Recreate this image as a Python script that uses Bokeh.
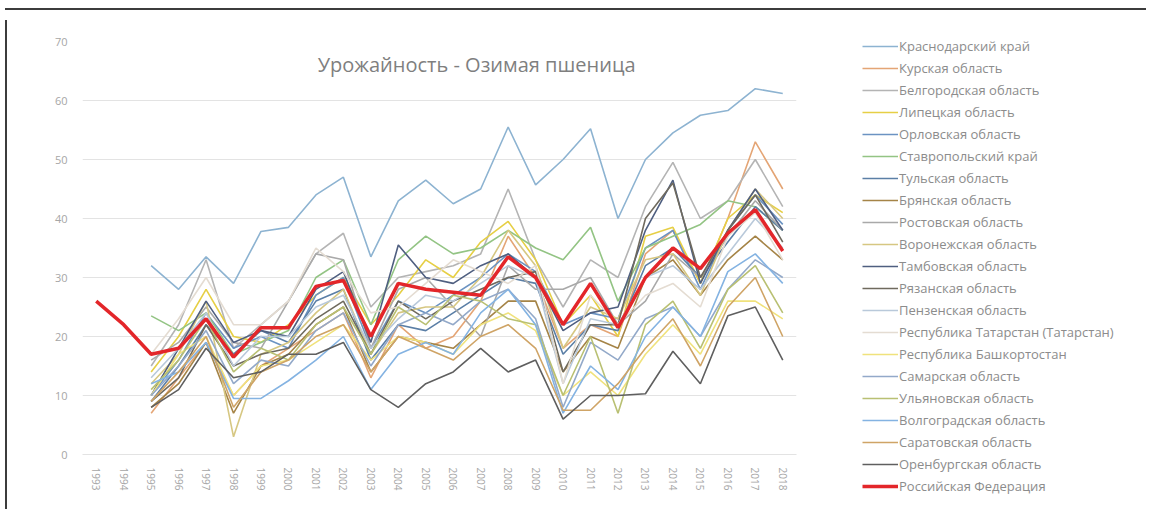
from bokeh.plotting import figure
from bokeh.models import Legend, LegendItem, Label, FixedTicker, Range1d, Div, Spacer
from bokeh.layouts import column, row
from bokeh.embed import file_html
from bokeh.resources import INLINE

years_all = list(range(1993, 2019))
years_reg = list(range(1995, 2019))

region_names = [
    "Краснодарский край", "Курская область", "Белгородская область", "Липецкая область",
    "Орловская область", "Ставропольский край", "Тульская область", "Брянская область",
    "Ростовская область", "Воронежская область", "Тамбовская область", "Рязанская область",
    "Пензенская область", "Республика Татарстан (Татарстан)", "Республика Башкортостан",
    "Самарская область", "Ульяновская область", "Волгоградская область", "Саратовская область",
    "Оренбургская область",
]
region_colors = [
    "#8db3d1", "#e4a575", "#b4b4b4", "#e6cf45", "#6b93c2", "#93c484", "#5b7fa6", "#a58447",
    "#a9a9a9", "#d6c782", "#4f5f80", "#6f6a5e", "#b9c9da", "#e4dcd2", "#f0e27c",
    "#93a9c9", "#b9c073", "#84b3e2", "#cfa466", "#5f5f5f",
]

krasnodar = [32, 28, 33.5, 29, 37.8, 38.5, 44, 47, 33.5, 43, 46.5, 42.5, 45, 55.5, 45.7, 50, 55.2, 40, 50, 54.5, 57.5, 58.3, 62, 61.2]
kursk = [7, 13, 19, 10, 15, 18, 21, 24, 13, 22, 18, 20, 26, 37, 30, 18, 22, 20, 34, 38, 29, 40, 53, 45]
belgorod = [15, 22, 33, 18, 22, 26, 34, 37.5, 25, 30, 31, 32, 34, 45, 33, 25, 33, 30, 42, 49.5, 40, 43, 50, 42]
lipetsk = [14, 20, 28, 20, 19, 22, 27, 30, 22, 27, 33, 30, 36, 39.5, 33, 22, 27, 20, 37, 38.5, 29, 40, 44, 41]
orel = [10, 16, 24, 18, 20, 18, 27, 30, 18, 26, 24, 27, 30, 34, 31, 22, 24, 23, 35, 38, 28, 38, 44, 39]
stavropol = [23.5, 21, 24, 17, 19, 21, 30, 33, 22, 33, 37, 34, 35, 38, 35, 33, 38.5, 26, 35, 37, 39, 43, 42, 38]
tula = [9, 15, 22, 17, 21, 19, 26, 28, 16, 22, 21, 24, 27, 30, 29, 17, 22, 21, 32, 35, 30, 36, 42, 38]
bryansk = [8, 12, 19, 7, 15, 17, 22, 25, 14, 20, 19, 18, 22, 26, 26, 14, 20, 18, 30, 33, 27, 33, 37, 33]
rostov = [16, 19, 25, 19, 18, 26, 34, 33, 18, 28, 30, 25, 20, 32, 28, 28, 30, 22, 26, 34, 30, 37, 43, 38]
voronezh = [12, 17, 26, 3, 17, 19, 24, 28, 17, 24, 25, 25, 30, 38, 32, 18, 25, 23, 33, 34, 27, 38, 45, 40]
tambov = [10, 18, 26, 19, 21, 20, 28, 31, 19, 35.5, 30, 29, 32, 34, 30, 21, 24, 25, 38, 46.5, 29, 38, 45, 38]
ryazan = [9, 13, 22, 15, 17, 18, 23, 26, 17, 26, 23, 26, 28, 30, 31, 14, 22, 22, 40, 46, 30, 38, 44, 36]
penza = [13, 18, 24, 15, 20, 20, 25, 27, 18, 23, 27, 26, 29, 32, 30, 12, 23, 22, 30, 32, 28, 34, 40, 35]
tatarstan = [17, 23, 30, 22, 22, 26, 35, 31, 24, 25, 29, 33, 31, 29, 32, 12, 27, 22, 27, 29, 25, 37, 41, 33]
bashkortostan = [10, 17, 20, 10, 15, 16, 19, 22, 16, 20, 19, 17, 22, 24, 21, 10, 14, 10, 17, 22, 17, 26, 26, 23]
samara = [10, 15, 21, 12, 16, 15, 21, 24, 15, 22, 24, 22, 26, 28, 23, 8, 19, 16, 23, 25, 20, 28, 33, 30]
ulyanovsk = [11, 16, 23, 14, 18, 16, 22, 25, 17, 25, 22, 27, 26, 23, 22, 10, 20, 7, 22, 26, 18, 28, 32, 24]
volgograd = [12, 14, 19, 9.5, 9.5, 12.5, 16, 20, 11, 17, 19, 17, 24, 28, 22, 7, 15, 11, 20, 25, 20, 31, 34, 29]
saratov = [9, 14, 20, 8, 14, 16, 20, 22, 14, 20, 18, 16, 20, 22, 18, 7.5, 7.5, 12, 18, 23, 15, 25, 30, 20]
orenburg = [8, 11, 18, 13, 14, 17, 17, 19, 11, 8, 12, 14, 18, 14, 16, 6, 10, 10, 10.3, 17.5, 12, 23.5, 25, 16]

russia_name = "Российская Федерация"
russia = [26, 22, 17, 18, 23, 16.5, 21.5, 21.5, 28.5, 29.5, 20, 29, 28, 27.5, 27, 33.5, 30, 22, 29, 21.5, 30, 35, 31.5, 37.5, 41.5, 34.5]

regions = [krasnodar, kursk, belgorod, lipetsk, orel, stavropol, tula, bryansk, rostov, voronezh,
           tambov, ryazan, penza, tatarstan, bashkortostan, samara, ulyanovsk, volgograd, saratov, orenburg]

y_ticks = [0, 10, 20, 30, 40, 50, 60, 70]
title_text = "Урожайность - Озимая пшеница"

FONT = "Open Sans"
FRAME_COLOR = "#3c3c3c"
RUSSIA_COLOR = "#e3262a"

# ---------------- main chart ----------------
p = figure(width=796, height=496, output_backend="svg", toolbar_location=None,
           x_range=Range1d(1992.5, 2018.5), y_range=Range1d(0, 70),
           min_border_left=70, min_border_right=12, min_border_top=26, min_border_bottom=57)
p.frame_align = False
p.outline_line_color = None
p.background_fill_color = "white"
p.border_fill_color = "white"

p.xgrid.grid_line_color = None
p.ygrid.grid_line_color = "#e3e3e3"
p.ygrid.grid_line_width = 1

p.yaxis.ticker = FixedTicker(ticks=y_ticks)
p.yaxis.axis_line_color = None
p.yaxis.major_tick_line_color = None
p.yaxis.minor_tick_line_color = None
p.yaxis.major_label_text_font = FONT
p.yaxis.major_label_text_font_size = "11px"
p.yaxis.major_label_text_color = "#a6a6a6"
p.yaxis.major_label_standoff = 9

p.xaxis.ticker = FixedTicker(ticks=years_all)
p.xaxis.axis_line_color = "#e3e3e3"
p.xaxis.major_tick_line_color = None
p.xaxis.minor_tick_line_color = None
p.xaxis.major_label_orientation = "vertical"
p.xaxis.major_label_text_font = FONT
p.xaxis.major_label_text_font_size = "10px"
p.xaxis.major_label_text_color = "#a6a6a6"
p.xaxis.major_label_standoff = 7

for vals, col in zip(regions, region_colors):
    p.line(years_reg, vals, line_color=col, line_width=1.6)
p.line(years_all, russia, line_color=RUSSIA_COLOR, line_width=3.5)

title = Label(x=2006.85, y=66.1, text=title_text, text_align="center", text_baseline="middle",
              text_font=FONT, text_font_size="20px", text_color="#7f7f7f")
p.add_layout(title)

# ---------------- legend panel ----------------
lg = figure(width=343, height=496, output_backend="svg", toolbar_location=None,
            x_axis_type=None, y_axis_type=None,
            x_range=Range1d(1992.5, 2018.5), y_range=Range1d(0, 70),
            min_border=0, min_border_left=0, min_border_right=0, min_border_top=0, min_border_bottom=0)
lg.frame_align = False
lg.outline_line_color = None
lg.grid.grid_line_color = None
lg.background_fill_color = "white"
lg.border_fill_color = "white"

items = []
for name, vals, col in zip(region_names, regions, region_colors):
    r = lg.line(years_reg, vals, line_color=col, line_width=1.6, visible=False)
    items.append(LegendItem(label=name, renderers=[r]))
rr = lg.line(years_all, russia, line_color=RUSSIA_COLOR, line_width=3.5, visible=False)
items.append(LegendItem(label=russia_name, renderers=[rr]))

legend = Legend(items=items, location=(54, 15), orientation="vertical",
                glyph_width=36, glyph_height=20, label_height=20, spacing=2,
                padding=0, margin=0, label_standoff=1, click_policy="none",
                border_line_alpha=0, background_fill_alpha=0,
                inactive_fill_alpha=0,
                label_text_font=FONT, label_text_font_size="13px", label_text_color="#8c8c8c")
lg.add_layout(legend, "center")

top_gap = Spacer(width=1141, height=3)
top_line = Div(width=1141, height=2, styles={"background-color": FRAME_COLOR})
left_line = Div(width=2, height=496, styles={"background-color": FRAME_COLOR})
page = column(top_gap, top_line, row(left_line, p, lg, spacing=0), spacing=0)

open("out.html", "w").write(file_html(page, INLINE))
